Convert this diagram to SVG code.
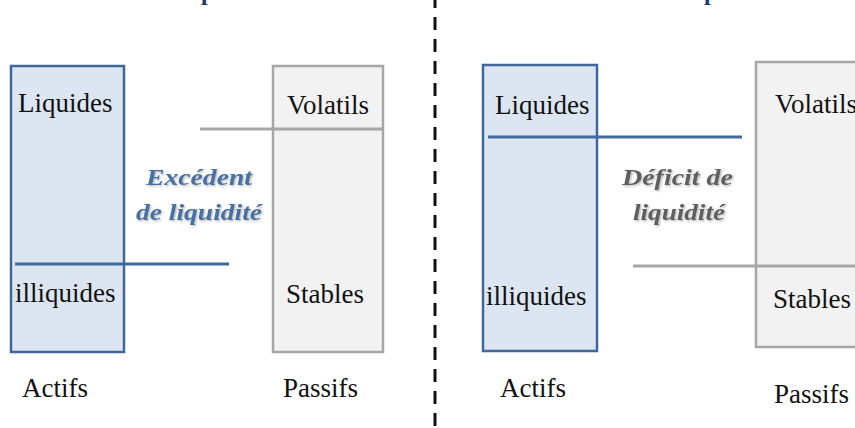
<svg xmlns="http://www.w3.org/2000/svg" width="855" height="428" viewBox="0 0 855 428">
  <defs>
    <filter id="soft-shadow" x="-10%" y="-30%" width="130%" height="170%">
      <feDropShadow dx="1.2" dy="1.2" stdDeviation="0.9" flood-color="#000" flood-opacity="0.3"/>
    </filter>
  </defs>
  <style>
    .asset { fill: #dce6f2; stroke: #41679a; stroke-width: 2.5; }
    .liab { fill: #f2f2f2; stroke: #a6a6a6; stroke-width: 2.5; }
    .lbl { font-family: "Liberation Serif", "Times New Roman", serif; font-size: 27px; fill: #111; }
    .note { font-family: "Liberation Serif", "Times New Roman", serif; font-size: 23px; font-weight: bold; font-style: italic; filter: url(#soft-shadow); }
    .note-blue { fill: #4a6fa3; }
    .note-gray { fill: #5f5f5f; }
    .title { font-family: "Liberation Serif", "Times New Roman", serif; font-size: 24px; font-weight: bold; fill: #1f3864; }
    .split-blue { stroke: #43689a; stroke-width: 3; fill: none; }
    .split-gray { stroke: #a6a6a6; stroke-width: 3; fill: none; }
    .divider { stroke: #111; stroke-width: 3; stroke-dasharray: 13 9; fill: none; }
  </style>

  <!-- headings, cut by the top edge -->
  <text class="title" x="201" y="0">p</text>
  <text class="title" x="704" y="0">p</text>

  <!-- central separator between the two cases -->
  <line class="divider" x1="435" y1="-5" x2="435" y2="428"/>

  <!-- case 1: liquidity surplus -->
  <g id="actifs-1">
    <rect class="asset" x="11" y="66" width="113" height="286"/>
    <text class="lbl" x="18" y="112">Liquides</text>
    <text class="lbl" x="15" y="302">illiquides</text>
  </g>
  <g id="passifs-1">
    <rect class="liab" x="273" y="66" width="110" height="286"/>
    <text class="lbl" x="287" y="114">Volatils</text>
    <text class="lbl" x="286" y="303">Stables</text>
  </g>
  <g id="note-1">
    <text class="note note-blue" x="146" y="185" textLength="106" lengthAdjust="spacingAndGlyphs">Excédent</text>
    <text class="note note-blue" x="136" y="220" textLength="126" lengthAdjust="spacingAndGlyphs">de liquidité</text>
  </g>
  <g id="legend-1">
    <text class="lbl" x="22" y="397">Actifs</text>
    <text class="lbl" x="283" y="397">Passifs</text>
  </g>

  <!-- case 2: liquidity deficit -->
  <g id="actifs-2">
    <rect class="asset" x="483" y="65" width="114" height="286"/>
    <text class="lbl" x="495" y="114">Liquides</text>
    <text class="lbl" x="486" y="305">illiquides</text>
  </g>
  <g id="passifs-2">
    <rect class="liab" x="756" y="62" width="120" height="285"/>
    <text class="lbl" x="775" y="113">Volatils</text>
    <text class="lbl" x="773" y="308">Stables</text>
  </g>
  <g id="note-2">
    <text class="note note-gray" x="622" y="185" textLength="111" lengthAdjust="spacingAndGlyphs">Déficit de</text>
    <text class="note note-gray" x="633" y="220" textLength="92" lengthAdjust="spacingAndGlyphs">liquidité</text>
  </g>
  <g id="legend-2">
    <text class="lbl" x="500" y="397">Actifs</text>
    <text class="lbl" x="774" y="403">Passifs</text>
  </g>

  <!-- split lines marking the liquid / stable boundaries -->
  <g id="connectors">
    <line class="split-gray" x1="200" y1="129" x2="383" y2="129"/>
    <line class="split-blue" x1="15" y1="264" x2="229" y2="264"/>
    <line class="split-blue" x1="488" y1="137" x2="742" y2="137"/>
    <line class="split-gray" x1="633" y1="266" x2="855" y2="266"/>
  </g>
</svg>
